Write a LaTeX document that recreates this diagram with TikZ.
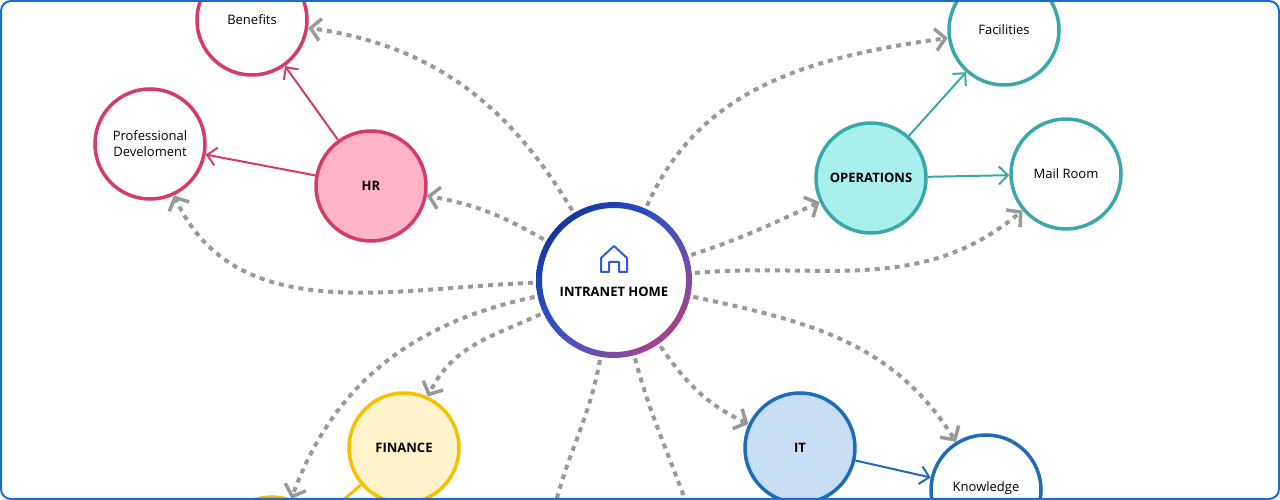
\documentclass[tikz,border=0pt]{standalone}
\usepackage{fontspec}
\setmainfont{Open Sans}
\usetikzlibrary{arrows.meta,shadings}
\definecolor{pinkB}{HTML}{D63A6A}
\definecolor{pinkF}{HTML}{FFB3C8}
\definecolor{tealB}{HTML}{3AA8A8}
\definecolor{tealF}{HTML}{A8F0EE}
\definecolor{yelB}{HTML}{F5C000}
\definecolor{yelF}{HTML}{FFF3CC}
\definecolor{bluB}{HTML}{1E6BB8}
\definecolor{bluF}{HTML}{C8DEF5}
\definecolor{navy}{HTML}{0A2A8C}
\definecolor{midb}{HTML}{2F5BD8}
\definecolor{frame}{HTML}{1E6BD0}
\definecolor{dgray}{HTML}{999999}
\begin{document}
\begin{tikzpicture}[x=1pt,y=1pt,
  bub/.style={circle,minimum size=110pt,line width=3.5pt,inner sep=0pt,align=center,font=\fontsize{13}{16}\selectfont},
  hub/.style={bub,font=\bfseries\fontsize{13}{16}\selectfont},
  dl/.style={draw=dgray,line width=4pt,dash pattern=on 5pt off 5pt,shorten <=5pt,-{Straight Barb[length=10pt,width=22pt,line width=3.5pt]}},
  dlx/.style={draw=dgray,line width=4pt,dash pattern=on 5pt off 5pt,shorten <=5pt},
  sl/.style={line width=2pt,-{Straight Barb[length=9pt,width=18pt,line width=2pt]}}]
\useasboundingbox (0,0) rectangle (1280,500);
\begin{scope}
\clip[rounded corners=10pt] (1,1) rectangle (1279,499);
\fill[white] (0,0) rectangle (1280,500);
\node[bub,draw=pinkB,fill=white] (ben) at (252,480) {Benefits};
\node[bub,draw=pinkB,fill=white] (pd) at (150,356) {Professional\\Develoment};
\node[hub,draw=pinkB,fill=pinkF] (hr) at (371,314) {HR};
\node[hub,draw=tealB,fill=tealF] (ops) at (871,322) {OPERATIONS};
\node[bub,draw=tealB,fill=white] (fac) at (1004,470) {Facilities};
\node[bub,draw=tealB,fill=white] (mail) at (1066,326) {Mail Room};
\node[hub,draw=yelB,fill=yelF] (fin) at (404,52) {FINANCE};
\node[bub,draw=yelB,fill=yelF] (yl) at (272,-52) {};
\coordinate (finx) at (320,-20);
\node[hub,draw=bluB,fill=bluF] (it) at (800,52) {IT};
\node[bub,draw=bluB,fill=white] (kn) at (986,10) {};
\node[font=\fontsize{13}{16}\selectfont] (knt) at (986,12) {Knowledge};
\node[circle,minimum size=152pt,inner sep=0pt] (home) at (614,220) {};
\shade[even odd rule,upper left=navy,upper right=midb,lower left=midb,lower right=pinkB]
  (614,220) circle (78) (614,220) circle (72);
\node[font=\bfseries\fontsize{13}{16}\selectfont] (ht) at (614,208) {INTRANET HOME};
\draw[midb,line width=2pt,line join=round] (601,228) -- (601,242) -- (614,254) -- (627,242) -- (627,228) -- (619,228) -- (619,238) -- (609,238) -- (609,228) -- cycle;
\coordinate (d1) at (555,-5);
\coordinate (d2) at (687,-5);
\draw[sl,pinkB] (hr) -- (ben);
\draw[sl,pinkB] (hr) -- (pd);
\draw[sl,tealB] (ops) -- (fac);
\draw[sl,tealB] (ops) -- (mail);
\draw[sl,bluB] (it) -- (kn);
\draw[yelB,line width=3pt] (fin) -- (finx);
\draw[dl] (home) to[out=121,in=-8] (ben);
\draw[dl] (home) to[out=150,in=-10] (hr);
\draw[dl] (home) to[out=182,in=-65] (pd);
\draw[dl] (home) to[out=66,in=188] (fac);
\draw[dl] (home) to[out=18,in=205] (ops);
\draw[dl] (home) to[out=5,in=220] (mail);
\draw[dl] (home) to[out=-12,in=122] (kn);
\draw[dl] (home) to[out=-55,in=155] (it);
\draw[dl] (home) to[out=205,in=65] (fin);
\draw[dl] (home) to[out=192,in=70] (yl);
\draw[dlx] (home) to[out=-100,in=75] (d1);
\draw[dlx] (home) to[out=-75,in=110] (d2);
\end{scope}
\draw[frame,line width=2pt,rounded corners=10pt] (1,1) rectangle (1279,499);
\end{tikzpicture}
\end{document}
